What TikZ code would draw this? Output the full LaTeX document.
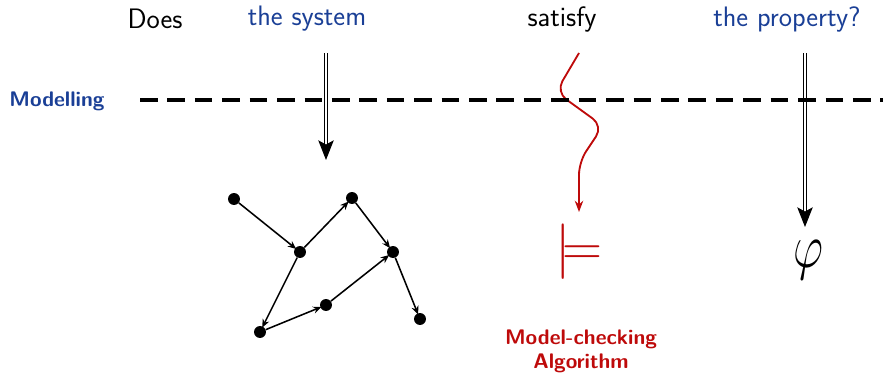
\documentclass[tikz,border=0pt]{standalone}
\usepackage{tikz}
\usetikzlibrary{arrows.meta,positioning,calc}
\definecolor{fg}{HTML}{000000}
\definecolor{struct}{HTML}{1A3F96}
\definecolor{algo}{HTML}{BE0A0A}

\begin{document}
\begin{tikzpicture}[
  x=0.025cm, y=-0.025cm,
  font=\sffamily\fontsize{20}{24}\selectfont,
  every node/.append style={text=fg},
  word/.style={anchor=center, inner sep=0pt},
  blueword/.style={word, text=struct},
  tag/.style={font=\sffamily\bfseries\fontsize{15}{17}\selectfont, align=center, inner sep=0pt},
  state/.style={circle, fill=fg, inner sep=0pt, minimum size=8.5pt},
  trans/.style={-{Stealth[length=6pt,width=5pt]}, line width=1.1pt, draw=fg, shorten >=-1pt},
  model/.style={double, draw=fg, line width=0.7pt, double distance=1.6pt,
    -{Stealth[length=14pt,width=11pt,inset=3pt]}},
  sep/.style={draw=fg, line width=2.8pt, dash pattern=on 12.5pt off 7pt},
  bigsym/.style={inner sep=0pt},
]
\useasboundingbox (0,0) rectangle (883,375);
% question
\node[word] (does) at (155,19) {Does};
\node[blueword] (sys) at (307,19) {the system};
\node[word] (sat) at (562,19) {satisfy};
\node[blueword] (prop) at (787,19) {the property?};
% modelling level
\node[tag, text=struct] (modlbl) at (57,101) {Modelling};
\coordinate (sepL) at (140,100);
\coordinate (sepR) at (883,100);
% system -> transition graph
\coordinate (sysTop) at (326,53);
\coordinate (sysBot) at (326,160);
\draw[model] (sysTop) -- (sysBot);
\node[state] (s1) at (234,199) {};
\node[state] (s2) at (300,252) {};
\node[state] (s3) at (352,198) {};
\node[state] (s4) at (393,252) {};
\node[state] (s5) at (326,305) {};
\node[state] (s6) at (260,332) {};
\node[state] (s7) at (420,319) {};
\draw[trans] (s1) -- (s2);
\draw[trans] (s2) -- (s3);
\draw[trans] (s3) -- (s4);
\draw[trans] (s2) -- (s6);
\draw[trans] (s6) -- (s5);
\draw[trans] (s5) -- (s4);
\draw[trans] (s4) -- (s7);
% property -> formula
\coordinate (propTop) at (805,53);
\node[bigsym] (phi) at (808,260) {\scalebox{1.6}[2.15]{$\varphi$}};
\draw[model] (propTop) -- (805,227);
% satisfy -> algorithm
\coordinate (satTop) at (579,53);
\node[bigsym, text=algo] (mc) at (579,252) {\scalebox{1.9}{$\models$}};
\draw[algo, line width=1.3pt, rounded corners=9pt, -{Stealth[length=8pt,width=6pt]}]
  (satTop) -- (556,92) -- (603,126) -- (579,162) -- (579,212);
\node[tag, text=algo] (mclbl) at (581,351) {Model-checking\\Algorithm};
% dashed separation line
\draw[sep] (sepL) -- (sepR);
\end{tikzpicture}
\end{document}
